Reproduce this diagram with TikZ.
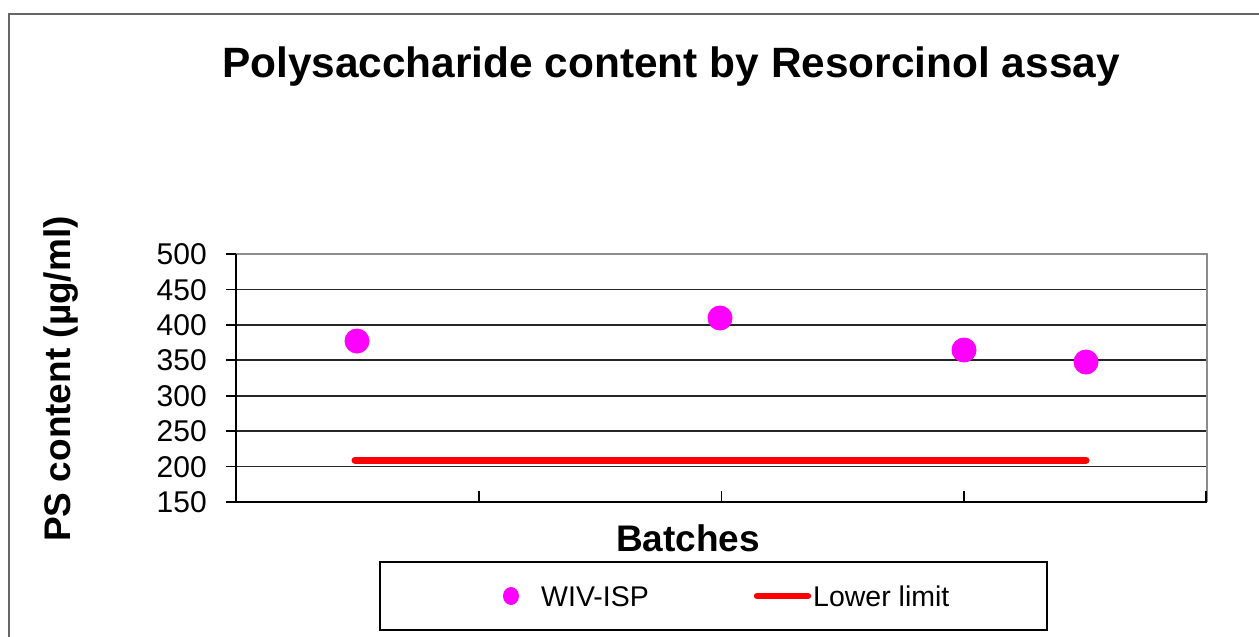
\documentclass[tikz,border=0pt]{standalone}
\usepackage{fontspec}
\setmainfont{Liberation Sans}
\usetikzlibrary{shapes.geometric}
\definecolor{ptmag}{HTML}{FF00FF}
\definecolor{limred}{HTML}{FF0000}
\definecolor{framegray}{HTML}{666666}
\definecolor{bordergray}{HTML}{8C8C8C}
\definecolor{gridcol}{HTML}{262626}
\tikzset{
  gridline/.style={draw=gridcol, line width=1.6pt},
  axisline/.style={draw=black, line width=1.8pt},
  borderline/.style={draw=bordergray, line width=2pt},
  tickline/.style={draw=black, line width=1.6pt},
  ticklabel/.style={anchor=base east, inner sep=0pt, font=\fontsize{30}{36}\selectfont},
  datapt/.style={circle, fill=ptmag, minimum size=25pt, inner sep=0pt},
  limitline/.style={draw=limred, line width=7pt, line cap=round},
  legendtext/.style={anchor=base west, inner sep=0pt, font=\fontsize{28.5}{34}\selectfont},
  axistitle/.style={inner sep=0pt, anchor=base, font=\bfseries\fontsize{37}{44}\selectfont},
}
\begin{document}
\begin{tikzpicture}[x=1pt,y=-1pt]
\useasboundingbox (0,0) rectangle (1259,637);
\fill[white] (0,0) rectangle (1259,637);
% outer frame (cut by the image edges)
\draw[draw=framegray, line width=2pt] (9,637) -- (9,14) -- (1259,14);
% title
\node[anchor=base, inner sep=0pt, font=\bfseries\fontsize{42.4}{50}\selectfont] (title) at (671,77) {Polysaccharide content by Resorcinol assay};
% gridlines
\foreach \yy in {466.57,431.14,395.71,360.29,324.86,289.43}
  \draw[gridline] (236,\yy) -- (1207,\yy);
% plot border
\draw[borderline] (236,254) -- (1207,254) -- (1207,502);
% axes
\draw[axisline] (236,254) -- (236,502) -- (1207,502);
% y ticks and labels
\foreach \yy/\lab in {502/150,466.57/200,431.14/250,395.71/300,360.29/350,324.86/400,289.43/450,254/500}{
  \draw[tickline] (226,\yy) -- (236,\yy);
  \node[ticklabel] (yl\lab) at (207,\yy+10.6) {\lab};
}
% x ticks
\foreach \xx in {478.75,721.5,964.25,1206}
  \draw[tickline] (\xx,502) -- (\xx,491);
% lower limit
\coordinate (limA) at (355,460);
\coordinate (limB) at (1086,460);
\draw[limitline] (limA) -- (limB);
% data points
\node[datapt] (p1) at (357,341) {};
\node[datapt] (p2) at (720,318) {};
\node[datapt] (p3) at (964,350) {};
\node[datapt] (p4) at (1086,362) {};
% axis titles
\node[axistitle] (xtitle) at (688,551) {Batches};
\node[axistitle, rotate=90] (ytitle) at (70,379) {PS content (µg/ml)};
% legend
\node[draw=black, line width=1.4pt, minimum width=667pt, minimum height=68pt, inner sep=0pt] (legend) at (713.5,596) {};
\node[ellipse, fill=ptmag, minimum width=16pt, minimum height=18pt, inner sep=0pt] (legpt) at (511,596) {};
\node[legendtext] (legA) at (541,606) {WIV-ISP};
\coordinate (legL1) at (757,596);
\coordinate (legL2) at (808,596);
\draw[draw=limred, line width=6.5pt, line cap=round] (legL1) -- (legL2);
\node[legendtext] (legB) at (813,606) {Lower limit};
\end{tikzpicture}
\end{document}
